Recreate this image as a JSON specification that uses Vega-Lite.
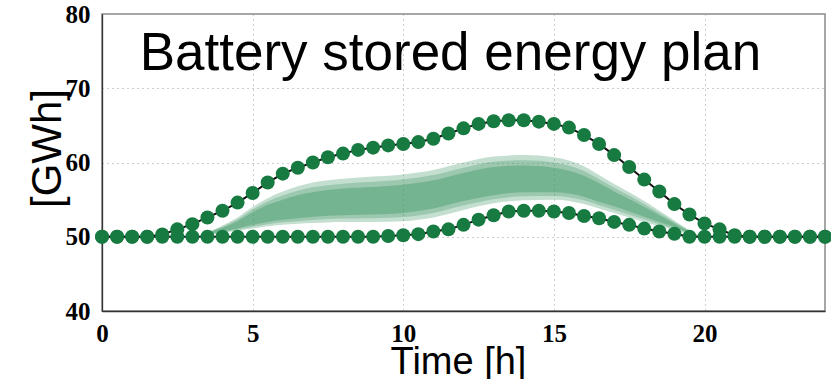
{
  "$schema": "https://vega.github.io/schema/vega-lite/v6.json",
  "width": 723,
  "height": 297,
  "autosize": "none",
  "padding": {"left": 102, "top": 14, "right": 6, "bottom": 68},
  "background": "white",
  "config": {
    "view": {"stroke": "#8a8a8a", "strokeWidth": 1.5},
    "axis": {
      "domainColor": "#333333",
      "domainWidth": 1.3,
      "ticks": false,
      "labelFlush": false,
      "grid": true,
      "gridColor": "#9a9a9a",
      "gridDash": [1, 4],
      "gridWidth": 1,
      "labelFont": "Liberation Serif",
      "labelFontWeight": "bold",
      "labelFontSize": 25,
      "labelColor": "#000000",
      "titleFont": "Liberation Sans",
      "titleFontWeight": "normal",
      "titleColor": "#000000"
    }
  },
  "datasets": {
    "band": [
      {"t": 3.2, "lo1": 50.0, "hi1": 50.0, "lo2": 50.0, "hi2": 50.0, "lo3": 50.0, "hi3": 50.0},
      {"t": 3.5, "lo1": 50.2, "hi1": 50.6, "lo2": 50.3, "hi2": 50.5, "lo3": 50.25, "hi3": 50.55},
      {"t": 4.0, "lo1": 50.5, "hi1": 51.5, "lo2": 50.7, "hi2": 51.2, "lo3": 50.6, "hi3": 51.35},
      {"t": 4.5, "lo1": 50.8, "hi1": 52.6, "lo2": 51.1, "hi2": 52.1, "lo3": 50.95, "hi3": 52.35},
      {"t": 5.0, "lo1": 51.1, "hi1": 54.0, "lo2": 51.6, "hi2": 53.3, "lo3": 51.35, "hi3": 53.65},
      {"t": 5.5, "lo1": 51.4, "hi1": 55.2, "lo2": 52.0, "hi2": 54.3, "lo3": 51.7, "hi3": 54.75},
      {"t": 6.0, "lo1": 51.6, "hi1": 56.1, "lo2": 52.3, "hi2": 55.0, "lo3": 51.95, "hi3": 55.55},
      {"t": 6.5, "lo1": 51.75, "hi1": 56.8, "lo2": 52.5, "hi2": 55.6, "lo3": 52.1, "hi3": 56.2},
      {"t": 7.0, "lo1": 51.85, "hi1": 57.3, "lo2": 52.7, "hi2": 56.0, "lo3": 52.25, "hi3": 56.65},
      {"t": 8.0, "lo1": 52.0, "hi1": 57.8, "lo2": 52.9, "hi2": 56.5, "lo3": 52.45, "hi3": 57.15},
      {"t": 9.0, "lo1": 52.0, "hi1": 58.1, "lo2": 53.0, "hi2": 56.7, "lo3": 52.5, "hi3": 57.4},
      {"t": 10.0, "lo1": 52.1, "hi1": 58.4, "lo2": 53.2, "hi2": 57.0, "lo3": 52.65, "hi3": 57.7},
      {"t": 11.0, "lo1": 52.6, "hi1": 59.0, "lo2": 53.8, "hi2": 57.6, "lo3": 53.2, "hi3": 58.3},
      {"t": 12.0, "lo1": 53.6, "hi1": 60.0, "lo2": 54.8, "hi2": 58.6, "lo3": 54.2, "hi3": 59.3},
      {"t": 13.0, "lo1": 54.5, "hi1": 60.8, "lo2": 55.6, "hi2": 59.4, "lo3": 55.05, "hi3": 60.1},
      {"t": 14.0, "lo1": 54.9, "hi1": 61.0, "lo2": 56.0, "hi2": 59.6, "lo3": 55.45, "hi3": 60.3},
      {"t": 15.0, "lo1": 55.0, "hi1": 60.7, "lo2": 56.0, "hi2": 59.3, "lo3": 55.5, "hi3": 60.0},
      {"t": 16.0, "lo1": 54.4, "hi1": 59.5, "lo2": 55.4, "hi2": 58.2, "lo3": 54.9, "hi3": 58.85},
      {"t": 16.5, "lo1": 53.8, "hi1": 58.3, "lo2": 54.7, "hi2": 57.2, "lo3": 54.25, "hi3": 57.75},
      {"t": 17.0, "lo1": 53.2, "hi1": 57.1, "lo2": 54.1, "hi2": 56.1, "lo3": 53.65, "hi3": 56.6},
      {"t": 17.5, "lo1": 52.6, "hi1": 56.0, "lo2": 53.4, "hi2": 55.1, "lo3": 53.0, "hi3": 55.55},
      {"t": 18.0, "lo1": 52.0, "hi1": 54.8, "lo2": 52.7, "hi2": 54.0, "lo3": 52.35, "hi3": 54.4},
      {"t": 18.5, "lo1": 51.4, "hi1": 53.5, "lo2": 52.0, "hi2": 52.9, "lo3": 51.7, "hi3": 53.2},
      {"t": 19.0, "lo1": 50.9, "hi1": 52.2, "lo2": 51.3, "hi2": 51.8, "lo3": 51.1, "hi3": 52.0},
      {"t": 19.5, "lo1": 50.3, "hi1": 50.9, "lo2": 50.5, "hi2": 50.7, "lo3": 50.4, "hi3": 50.8},
      {"t": 19.8, "lo1": 50.0, "hi1": 50.2, "lo2": 50.1, "hi2": 50.1, "lo3": 50.05, "hi3": 50.15}
    ],
    "lines": [
      {"s": "upper", "t": 0, "v": 50}, {"s": "upper", "t": 0.5, "v": 50}, {"s": "upper", "t": 1, "v": 50},
      {"s": "upper", "t": 1.5, "v": 50}, {"s": "upper", "t": 2, "v": 50.3}, {"s": "upper", "t": 2.5, "v": 51.0},
      {"s": "upper", "t": 3, "v": 51.7}, {"s": "upper", "t": 3.5, "v": 52.6}, {"s": "upper", "t": 4, "v": 53.5},
      {"s": "upper", "t": 4.5, "v": 54.6}, {"s": "upper", "t": 5, "v": 55.9}, {"s": "upper", "t": 5.5, "v": 57.3},
      {"s": "upper", "t": 6, "v": 58.5}, {"s": "upper", "t": 6.5, "v": 59.3}, {"s": "upper", "t": 7, "v": 60.0},
      {"s": "upper", "t": 7.5, "v": 60.7}, {"s": "upper", "t": 8, "v": 61.2}, {"s": "upper", "t": 8.5, "v": 61.7},
      {"s": "upper", "t": 9, "v": 62.0}, {"s": "upper", "t": 9.5, "v": 62.3}, {"s": "upper", "t": 10, "v": 62.5},
      {"s": "upper", "t": 10.5, "v": 62.75}, {"s": "upper", "t": 11, "v": 63.2}, {"s": "upper", "t": 11.5, "v": 63.9},
      {"s": "upper", "t": 12, "v": 64.6}, {"s": "upper", "t": 12.5, "v": 65.2}, {"s": "upper", "t": 13, "v": 65.55},
      {"s": "upper", "t": 13.5, "v": 65.7}, {"s": "upper", "t": 14, "v": 65.7}, {"s": "upper", "t": 14.5, "v": 65.5},
      {"s": "upper", "t": 15, "v": 65.2}, {"s": "upper", "t": 15.5, "v": 64.7}, {"s": "upper", "t": 16, "v": 63.7},
      {"s": "upper", "t": 16.5, "v": 62.5}, {"s": "upper", "t": 17, "v": 61.0}, {"s": "upper", "t": 17.5, "v": 59.4},
      {"s": "upper", "t": 18, "v": 57.7}, {"s": "upper", "t": 18.5, "v": 56.1}, {"s": "upper", "t": 19, "v": 54.4},
      {"s": "upper", "t": 19.5, "v": 53.0}, {"s": "upper", "t": 20, "v": 51.8}, {"s": "upper", "t": 20.5, "v": 51.0},
      {"s": "upper", "t": 21, "v": 50.2}, {"s": "upper", "t": 21.5, "v": 50}, {"s": "upper", "t": 22, "v": 50},
      {"s": "upper", "t": 22.5, "v": 50}, {"s": "upper", "t": 23, "v": 50}, {"s": "upper", "t": 23.5, "v": 50},
      {"s": "upper", "t": 24, "v": 50},
      {"s": "lower", "t": 0, "v": 50}, {"s": "lower", "t": 0.5, "v": 50}, {"s": "lower", "t": 1, "v": 50},
      {"s": "lower", "t": 1.5, "v": 50}, {"s": "lower", "t": 2, "v": 50}, {"s": "lower", "t": 2.5, "v": 50},
      {"s": "lower", "t": 3, "v": 50}, {"s": "lower", "t": 3.5, "v": 50}, {"s": "lower", "t": 4, "v": 50},
      {"s": "lower", "t": 4.5, "v": 50}, {"s": "lower", "t": 5, "v": 50}, {"s": "lower", "t": 5.5, "v": 50},
      {"s": "lower", "t": 6, "v": 50}, {"s": "lower", "t": 6.5, "v": 50}, {"s": "lower", "t": 7, "v": 50},
      {"s": "lower", "t": 7.5, "v": 50}, {"s": "lower", "t": 8, "v": 50}, {"s": "lower", "t": 8.5, "v": 50},
      {"s": "lower", "t": 9, "v": 50}, {"s": "lower", "t": 9.5, "v": 50.1}, {"s": "lower", "t": 10, "v": 50.2},
      {"s": "lower", "t": 10.5, "v": 50.35}, {"s": "lower", "t": 11, "v": 50.7}, {"s": "lower", "t": 11.5, "v": 51.0},
      {"s": "lower", "t": 12, "v": 51.6}, {"s": "lower", "t": 12.5, "v": 52.3}, {"s": "lower", "t": 13, "v": 52.9},
      {"s": "lower", "t": 13.5, "v": 53.4}, {"s": "lower", "t": 14, "v": 53.5}, {"s": "lower", "t": 14.5, "v": 53.5},
      {"s": "lower", "t": 15, "v": 53.4}, {"s": "lower", "t": 15.5, "v": 53.2}, {"s": "lower", "t": 16, "v": 52.8},
      {"s": "lower", "t": 16.5, "v": 52.5}, {"s": "lower", "t": 17, "v": 52.0}, {"s": "lower", "t": 17.5, "v": 51.6},
      {"s": "lower", "t": 18, "v": 51.1}, {"s": "lower", "t": 18.5, "v": 50.7}, {"s": "lower", "t": 19, "v": 50.4},
      {"s": "lower", "t": 19.5, "v": 50.0}, {"s": "lower", "t": 20, "v": 50}, {"s": "lower", "t": 20.5, "v": 50},
      {"s": "lower", "t": 21, "v": 50}, {"s": "lower", "t": 21.5, "v": 50}, {"s": "lower", "t": 22, "v": 50},
      {"s": "lower", "t": 22.5, "v": 50}, {"s": "lower", "t": 23, "v": 50}, {"s": "lower", "t": 23.5, "v": 50},
      {"s": "lower", "t": 24, "v": 50}
    ],
    "label": [{"t": 1.25, "v": 72.5, "text": "Battery stored energy plan"}]
  },
  "layer": [
    {
      "data": {"name": "band"},
      "mark": {"type": "area", "color": "#3d9563", "opacity": 0.3, "interpolate": "monotone"},
      "encoding": {
        "x": {"field": "t", "type": "quantitative", "scale": {"domain": [0, 24], "nice": false},
              "axis": {"values": [0, 5, 10, 15, 20], "title": "Time [h]", "titleFontSize": 38, "labelPadding": 10, "titlePadding": -3, "titleX": 356}},
        "y": {"field": "lo1", "type": "quantitative", "scale": {"domain": [40, 80], "nice": false, "zero": false},
              "axis": {"values": [40, 50, 60, 70, 80], "title": "[GWh]", "titleFontSize": 42, "labelPadding": 12, "titlePadding": -4, "titleY": 134}},
        "y2": {"field": "hi1"}
      }
    },
    {
      "data": {"name": "band"},
      "mark": {"type": "area", "color": "#3d9563", "opacity": 0.3, "interpolate": "monotone"},
      "encoding": {
        "x": {"field": "t", "type": "quantitative"},
        "y": {"field": "lo3", "type": "quantitative"},
        "y2": {"field": "hi3"}
      }
    },
    {
      "data": {"name": "band"},
      "mark": {"type": "area", "color": "#3d9563", "opacity": 0.4, "interpolate": "monotone"},
      "encoding": {
        "x": {"field": "t", "type": "quantitative"},
        "y": {"field": "lo2", "type": "quantitative"},
        "y2": {"field": "hi2"}
      }
    },
    {
      "data": {"name": "lines"},
      "mark": {"type": "line", "color": "#111111", "strokeWidth": 2},
      "encoding": {
        "x": {"field": "t", "type": "quantitative"},
        "y": {"field": "v", "type": "quantitative"},
        "detail": {"field": "s"}
      }
    },
    {
      "data": {"name": "lines"},
      "mark": {"type": "point", "shape": "circle", "filled": true, "size": 196, "color": "#177a40", "opacity": 1},
      "encoding": {
        "x": {"field": "t", "type": "quantitative"},
        "y": {"field": "v", "type": "quantitative"}
      }
    },
    {
      "data": {"name": "label"},
      "mark": {"type": "text", "font": "Liberation Sans", "fontSize": 53, "align": "left", "baseline": "alphabetic", "color": "#000000"},
      "encoding": {
        "x": {"field": "t", "type": "quantitative"},
        "y": {"field": "v", "type": "quantitative"},
        "text": {"field": "text"}
      }
    }
  ]
}
